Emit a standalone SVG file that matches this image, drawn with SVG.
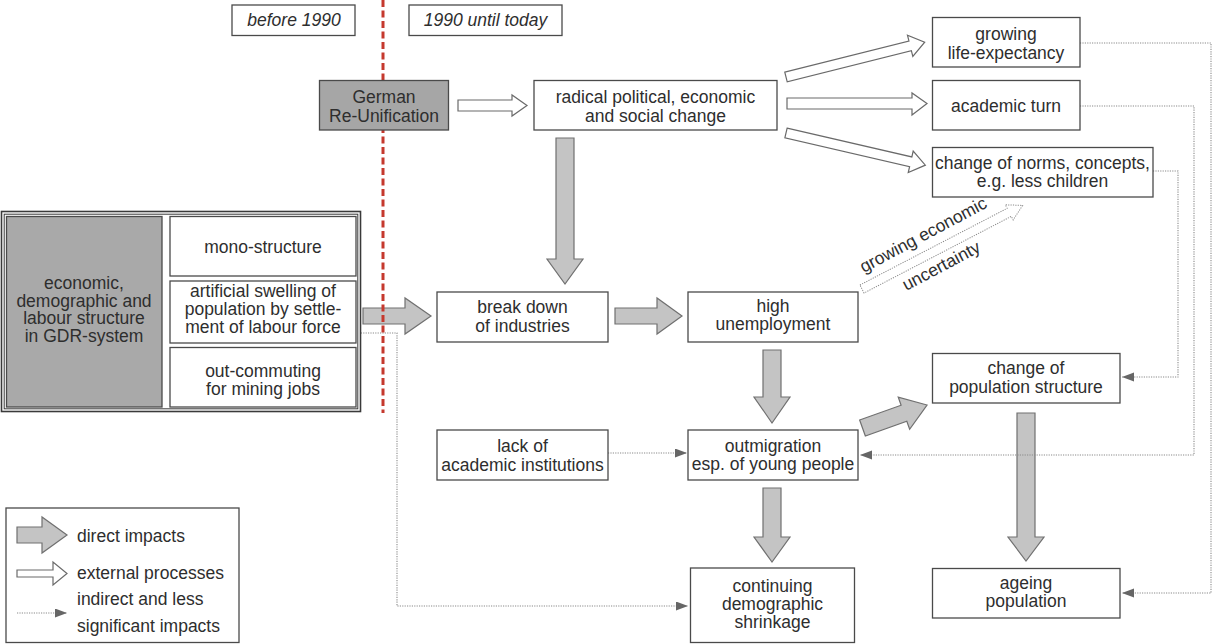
<svg xmlns="http://www.w3.org/2000/svg" width="1212" height="644" viewBox="0 0 1212 644">
<style>
text{font-family:"Liberation Sans",Arial,sans-serif;font-size:17.5px;fill:#2e2e2e;text-anchor:middle}
.it{font-style:italic}
.lg{text-anchor:start}
.box{fill:#fff;stroke:#4a4a4a;stroke-width:1.3}
.dark{fill:#a6a6a6;stroke:#4a4a4a;stroke-width:1.3}
.big{fill:#c4c4c4;stroke:#707070;stroke-width:1.2;stroke-linejoin:miter}
.ext{fill:#fff;stroke:#6a6a6a;stroke-width:1.2}
.dot{fill:none;stroke:#8a8a8a;stroke-width:1.1;stroke-dasharray:1.2 1.2}
.dotarr{fill:#fff;stroke:#8a8a8a;stroke-width:1;stroke-dasharray:1.2 1.2}
.red{stroke:#c5392e;stroke-width:3;stroke-dasharray:7 3.5;fill:none}
</style>
<defs>
<marker id="ah" markerUnits="userSpaceOnUse" markerWidth="13" markerHeight="10" refX="12" refY="4.5" orient="auto">
<path d="M0,0 L12,4.5 L0,9 z" fill="#666"/>
</marker>
</defs>
<rect width="1212" height="644" fill="#fff"/>

<g id="connectors">
<!-- direct impacts (gray) -->
<polygon class="big" points="556,138 574,138 574,259 583,259 565,284 547,259 556,259"/>
<polygon class="big" points="363,308 405,308 405,298 431,316 405,334 405,324 363,324"/>
<polygon class="big" points="615,308 657,308 657,298 682,316 657,334 657,324 615,324"/>
<polygon class="big" points="763,350 781,350 781,397 790,397 772,423 754,397 763,397"/>
<polygon class="big" points="763,488 781,488 781,537 790,537 772,562 754,537 763,537"/>
<polygon class="big" points="1017,413 1035,413 1035,537 1044,537 1026,561 1008,537 1017,537"/>
<polygon class="big" transform="translate(862.5,428) rotate(-19.6)" points="0,-8.5 44,-8.5 44,-17 68.5,0 44,17 44,8.5 0,8.5"/>
<!-- external processes (hollow) -->
<polygon class="ext" points="458,100 512,100 512,95 527,105.5 512,116 512,111 458,111"/>
<polygon class="ext" points="787,98 912,98 912,93 927,103.5 912,115 912,109 787,109"/>
<polygon class="ext" transform="translate(786,77) rotate(-14.1)" points="0,-5 128,-5 128,-11 143,0 128,11 128,5 0,5"/>
<polygon class="ext" transform="translate(786,133) rotate(13)" points="0,-5 128,-5 128,-11 143,0 128,11 128,5 0,5"/>
<!-- indirect impacts (dotted) -->
<polygon class="dotarr" transform="translate(862,289) rotate(-27.5)" points="0,-4.5 166,-4.5 166,-8.5 181,0 166,8.5 166,4.5 0,4.5"/>
<path class="dot" d="M1080,43 H1211 V593 H1122" marker-end="url(#ah)"/>
<path class="dot" d="M1080,106 H1194 V455 H860" marker-end="url(#ah)"/>
<path class="dot" d="M1153,171 H1178 V377 H1122" marker-end="url(#ah)"/>
<path class="dot" d="M356,333 H397 V606 H688" marker-end="url(#ah)"/>
<path class="dot" d="M608,453 H687" marker-end="url(#ah)"/>
<text transform="translate(926,240) rotate(-28)">growing economic</text>
<text transform="translate(944,271) rotate(-28)">uncertainty</text>
</g>

<line id="divider" class="red" x1="383" y1="0" x2="383" y2="413"/>

<g id="hdr-before"><rect class="box" x="232" y="5" width="123" height="30.5"/><text class="it" x="294" y="26">before 1990</text></g>
<g id="hdr-after"><rect class="box" x="409" y="5" width="153" height="30.5"/><text class="it" x="485.5" y="26">1990 until today</text></g>

<g id="reunification"><rect class="dark" x="319.5" y="80.5" width="129" height="49.5"/><text x="384" y="102.5">German</text><text x="384" y="121.5">Re-Unification</text></g>
<g id="radical"><rect class="box" x="534" y="80.5" width="243" height="49.5"/><text x="655.5" y="102.5">radical political, economic</text><text x="655.5" y="121.5">and social change</text></g>
<g id="life"><rect class="box" x="932.5" y="17.5" width="147.5" height="49.5"/><text x="1006" y="40">growing</text><text x="1006" y="58.5">life-expectancy</text></g>
<g id="academic"><rect class="box" x="932.5" y="80.5" width="147.5" height="49.5"/><text x="1006" y="111.5">academic turn</text></g>
<g id="norms"><rect class="box" x="932.5" y="147.5" width="220.5" height="49.5"/><text x="1042.5" y="168.5">change of norms, concepts,</text><text x="1042.5" y="187">e.g. less children</text></g>

<g id="gdr">
<rect x="1.5" y="211.5" width="359" height="200" fill="#fff" stroke="#3a3a3a" stroke-width="1.6"/>
<rect x="4.2" y="214.2" width="353.6" height="194.6" fill="none" stroke="#3a3a3a" stroke-width="1"/>
<rect class="dark" x="6.5" y="216.5" width="155.5" height="190.5" style="fill:#a9a9a9"/>
<text x="84" y="289">economic,</text><text x="84" y="306.7">demographic and</text><text x="84" y="324.4">labour structure</text><text x="84" y="342">in GDR-system</text>
</g>
<g id="mono"><rect class="box" x="170" y="216.5" width="186" height="59.5"/><text x="263" y="253">mono-structure</text></g>
<g id="swelling"><rect class="box" x="170" y="281" width="186" height="62"/><text x="263" y="297">artificial swelling of</text><text x="263" y="315.2">population by settle-</text><text x="263" y="333.4">ment of labour force</text></g>
<g id="commuting"><rect class="box" x="170" y="347.5" width="186" height="59.5"/><text x="263" y="376.7">out-commuting</text><text x="263" y="394.5">for mining jobs</text></g>

<g id="breakdown"><rect class="box" x="437" y="292" width="171" height="50"/><text x="522.5" y="313">break down</text><text x="522.5" y="331.7">of industries</text></g>
<g id="unemployment"><rect class="box" x="688" y="292" width="170" height="50"/><text x="773" y="311.7">high</text><text x="773" y="330.2">unemployment</text></g>
<g id="lack"><rect class="box" x="437" y="430" width="171" height="50"/><text x="522.5" y="451.7">lack of</text><text x="522.5" y="470.5">academic institutions</text></g>
<g id="outmigration"><rect class="box" x="688" y="430" width="170" height="50"/><text x="773" y="451.7">outmigration</text><text x="773" y="470.3">esp. of young people</text></g>
<g id="popstructure"><rect class="box" x="932.5" y="353.5" width="187.5" height="49.5"/><text x="1026" y="374">change of</text><text x="1026" y="392.7">population structure</text></g>
<g id="ageing"><rect class="box" x="932.5" y="568.5" width="187.5" height="49.5"/><text x="1026" y="588.5">ageing</text><text x="1026" y="606.8">population</text></g>
<g id="shrinkage"><rect class="box" x="690.5" y="568" width="164" height="74.5"/><text x="772.5" y="591.7">continuing</text><text x="772.5" y="610">demographic</text><text x="772.5" y="628">shrinkage</text></g>

<g id="legend">
<rect class="box" x="6" y="508" width="233" height="134.5"/>
<polygon class="big" points="17,527 42,527 42,517 67,535 42,553 42,543 17,543"/>
<text class="lg" x="77" y="542">direct impacts</text>
<polygon class="ext" points="17,570 53,570 53,562 67,573.5 53,585 53,577 17,577"/>
<text class="lg" x="77" y="579">external processes</text>
<path class="dot" d="M17,613 H67" marker-end="url(#ah)"/>
<text class="lg" x="77" y="605">indirect and less</text>
<text class="lg" x="77" y="632">significant impacts</text>
</g>
</svg>
